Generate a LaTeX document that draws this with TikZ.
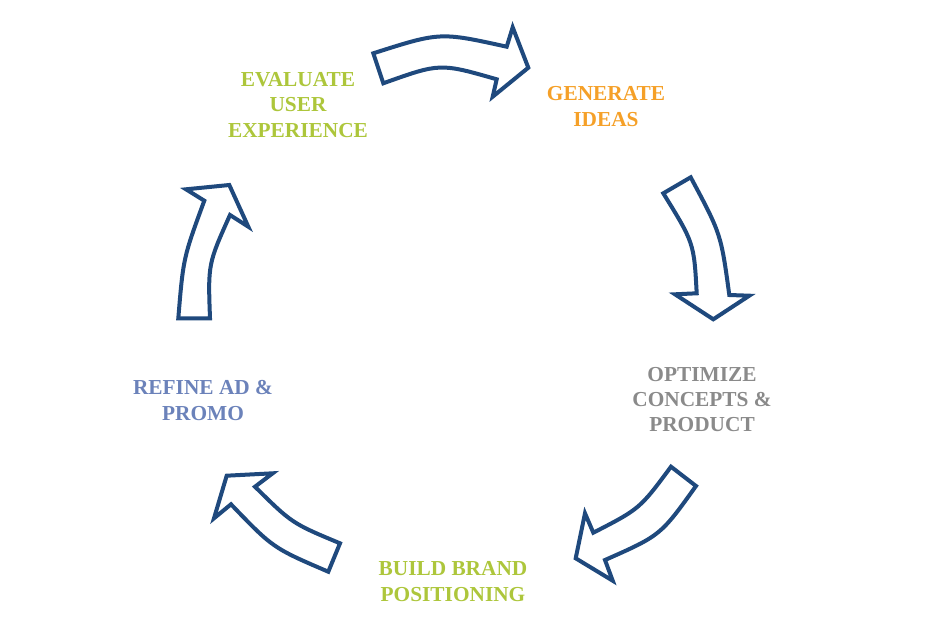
\documentclass[tikz,border=0pt]{standalone}
\usepackage{fontspec}
\setmainfont{Liberation Serif}
\definecolor{arrowblue}{RGB}{31,73,125}
\definecolor{limegreen}{RGB}{173,198,59}
\definecolor{orangetxt}{RGB}{245,160,40}
\definecolor{graytxt}{RGB}{138,138,138}
\definecolor{bluetxt}{RGB}{107,130,186}
\tikzset{
  cyclearrow/.style={draw=arrowblue, line width=3pt, line join=miter, fill=white},
  steplabel/.style={align=center, font=\fontsize{16}{18.9}\selectfont\bfseries, inner sep=0pt}
}
\begin{document}
\begin{tikzpicture}[x=0.75pt,y=-0.75pt]
\useasboundingbox (0,0) rectangle (926,632);
% top arrow
\draw[cyclearrow] (373.3,53.3) .. controls (440,32) .. (506.7,46.7) -- (512.7,27.3) -- (528.3,67.7) -- (492.7,96.7) -- (496.7,79.3) .. controls (440,63) .. (383.3,83.3) -- cycle;
% right arrow
\draw[cyclearrow] (690.7,177.3) .. controls (721,234) .. (729.3,295) -- (749.3,295.7) -- (713.3,319.3) -- (675,294.3) -- (696.7,293.3) .. controls (694,243) .. (663.3,193.3) -- cycle;
% bottom right arrow
\draw[cyclearrow] (696,486) .. controls (660.6,535.4) .. (605,560) -- (612.7,580.7) -- (575.7,558.3) -- (585,513.3) -- (593.3,532.7) .. controls (639.8,508.8) .. (671,466.7) -- cycle;
% bottom left arrow
\draw[cyclearrow] (328.3,571.7) .. controls (273,548) .. (231,504.3) -- (214,518.3) -- (226.7,475.7) -- (272.7,473.3) -- (255,486.7) .. controls (292,523.3) .. (340,543.3) -- cycle;
% left arrow
\draw[cyclearrow] (178.3,318.3) .. controls (183.3,257.8) .. (204.3,200.7) -- (186,189.3) -- (229.3,185) -- (248.3,226.7) -- (230,215) .. controls (208,264) .. (210,318.3) -- cycle;
% labels
\node[steplabel, text=limegreen] (evaluate) at (298,105) {EVALUATE\\USER\\EXPERIENCE};
\node[steplabel, text=orangetxt] (generate) at (606,106.5) {GENERATE\\IDEAS};
\node[steplabel, text=graytxt] (optimize) at (702,399.5) {OPTIMIZE\\CONCEPTS \&\\PRODUCT};
\node[steplabel, text=limegreen] (build) at (453,581.5) {BUILD BRAND\\POSITIONING};
\node[steplabel, text=bluetxt] (refine) at (203,400.5) {REFINE AD \&\\PROMO};
\end{tikzpicture}
\end{document}
